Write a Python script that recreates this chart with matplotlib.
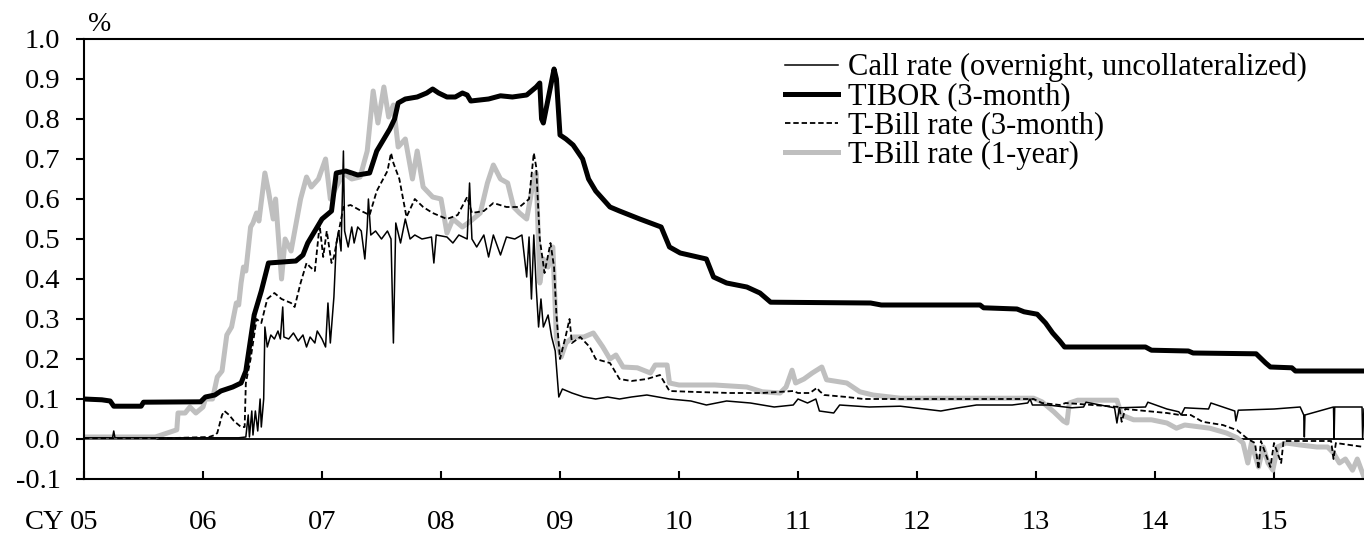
import matplotlib
matplotlib.use("Agg")
import matplotlib.pyplot as plt

plt.rcParams['font.family'] = ['Liberation Serif', 'DejaVu Serif']

# Daily rates, sampled as (decimal year, percent)
call_t = [2005.00, 2005.24, 2005.25, 2005.26, 2006.30, 2006.36, 2006.38, 2006.39, 2006.41, 2006.42,
          2006.44, 2006.46, 2006.48, 2006.49, 2006.51, 2006.52, 2006.54, 2006.57, 2006.60, 2006.63,
          2006.65, 2006.67, 2006.68, 2006.72, 2006.76, 2006.80, 2006.84, 2006.87, 2006.90, 2006.94,
          2006.96, 2007.00, 2007.03, 2007.05, 2007.07, 2007.10, 2007.12, 2007.14, 2007.16, 2007.18,
          2007.19, 2007.22, 2007.25, 2007.27, 2007.30, 2007.33, 2007.36, 2007.38, 2007.39, 2007.41,
          2007.45, 2007.50, 2007.55, 2007.58, 2007.60, 2007.62, 2007.66, 2007.70, 2007.74, 2007.78,
          2007.84, 2007.92, 2007.94, 2007.96, 2008.05, 2008.10, 2008.15, 2008.22, 2008.24, 2008.26,
          2008.30, 2008.36, 2008.40, 2008.44, 2008.50, 2008.55, 2008.62, 2008.68, 2008.72, 2008.74,
          2008.76, 2008.78, 2008.80, 2008.82, 2008.84, 2008.86, 2008.90, 2008.93, 2008.96, 2008.99,
          2009.02, 2009.10, 2009.20, 2009.30, 2009.40, 2009.50, 2009.60, 2009.73, 2009.92, 2010.10,
          2010.23, 2010.40, 2010.60, 2010.80, 2010.96, 2011.00, 2011.08, 2011.15, 2011.18, 2011.30,
          2011.35, 2011.60, 2011.86, 2012.20, 2012.35, 2012.50, 2012.80, 2012.93, 2012.95, 2012.97,
          2013.10, 2013.30, 2013.40, 2013.42, 2013.66, 2013.68, 2013.70, 2013.92, 2013.94, 2014.10,
          2014.20, 2014.22, 2014.25, 2014.45, 2014.47, 2014.67, 2014.68, 2014.70, 2015.00, 2015.22,
          2015.25, 2015.255, 2015.26, 2015.50, 2015.505, 2015.51, 2015.74, 2015.745, 2015.756]
call_v = [0.003, 0.003, 0.020, 0.003, 0.003, 0.005, 0.060, 0.005, 0.070, 0.010,
          0.070, 0.020, 0.100, 0.030, 0.100, 0.280, 0.230, 0.260, 0.250, 0.270,
          0.250, 0.330, 0.255, 0.250, 0.265, 0.245, 0.260, 0.230, 0.255, 0.240,
          0.270, 0.250, 0.230, 0.340, 0.240, 0.355, 0.490, 0.520, 0.470, 0.720,
          0.520, 0.480, 0.530, 0.490, 0.530, 0.520, 0.450, 0.530, 0.600, 0.510,
          0.520, 0.500, 0.520, 0.500, 0.240, 0.540, 0.490, 0.550, 0.500, 0.510,
          0.500, 0.505, 0.440, 0.510, 0.505, 0.490, 0.510, 0.500, 0.640, 0.500,
          0.480, 0.510, 0.455, 0.510, 0.460, 0.505, 0.500, 0.510, 0.405, 0.505,
          0.350, 0.510, 0.380, 0.280, 0.350, 0.280, 0.310, 0.255, 0.220, 0.105,
          0.125, 0.115, 0.105, 0.100, 0.105, 0.100, 0.105, 0.110, 0.100, 0.095,
          0.085, 0.095, 0.090, 0.080, 0.085, 0.100, 0.090, 0.100, 0.070, 0.065,
          0.085, 0.080, 0.082, 0.070, 0.078, 0.085, 0.085, 0.090, 0.100, 0.085,
          0.085, 0.078, 0.080, 0.092, 0.078, 0.040, 0.078, 0.080, 0.092, 0.075,
          0.068, 0.060, 0.078, 0.075, 0.090, 0.070, 0.045, 0.072, 0.075, 0.080,
          0.060, 0.005, 0.060, 0.080, 0.000, 0.080, 0.080, 0.000, 0.075]

tibor_t = [2005.00, 2005.15, 2005.22, 2005.25, 2005.48, 2005.50, 2005.98, 2006.02, 2006.10, 2006.15,
           2006.25, 2006.32, 2006.36, 2006.40, 2006.43, 2006.49, 2006.55, 2006.78, 2006.84, 2006.88,
           2006.93, 2007.00, 2007.08, 2007.12, 2007.20, 2007.30, 2007.40, 2007.46, 2007.52, 2007.57,
           2007.61, 2007.64, 2007.70, 2007.80, 2007.88, 2007.93, 2007.98, 2008.05, 2008.12, 2008.18,
           2008.22, 2008.25, 2008.40, 2008.50, 2008.60, 2008.72, 2008.80, 2008.83, 2008.845, 2008.86,
           2008.90, 2008.95, 2008.97, 2009.00, 2009.05, 2009.11, 2009.19, 2009.24, 2009.30, 2009.42,
           2009.50, 2009.67, 2009.85, 2009.92, 2010.01, 2010.23, 2010.29, 2010.40, 2010.57, 2010.68,
           2010.77, 2011.61, 2011.70, 2012.53, 2012.56, 2012.84, 2012.90, 2013.01, 2013.08, 2013.14,
           2013.20, 2013.24, 2013.92, 2013.97, 2014.28, 2014.32, 2014.85, 2014.93, 2014.97, 2015.15,
           2015.18, 2015.756]
tibor_v = [0.100, 0.098, 0.095, 0.082, 0.082, 0.092, 0.093, 0.105, 0.110, 0.120,
           0.130, 0.140, 0.170, 0.250, 0.310, 0.370, 0.440, 0.445, 0.460, 0.490,
           0.515, 0.550, 0.570, 0.665, 0.670, 0.660, 0.665, 0.720, 0.750, 0.775,
           0.800, 0.840, 0.850, 0.855, 0.865, 0.875, 0.865, 0.855, 0.855, 0.865,
           0.860, 0.845, 0.850, 0.858, 0.855, 0.860, 0.880, 0.890, 0.800, 0.790,
           0.850, 0.925, 0.900, 0.760, 0.750, 0.735, 0.700, 0.650, 0.620, 0.580,
           0.570, 0.550, 0.530, 0.480, 0.465, 0.450, 0.405, 0.390, 0.380, 0.365,
           0.342, 0.340, 0.335, 0.335, 0.328, 0.325, 0.318, 0.312, 0.290, 0.265,
           0.245, 0.230, 0.230, 0.222, 0.220, 0.215, 0.213, 0.190, 0.180, 0.178,
           0.170, 0.170]

tb3m_t = [2005.00, 2005.70, 2006.05, 2006.10, 2006.12, 2006.16, 2006.18, 2006.22, 2006.26, 2006.32,
          2006.35, 2006.36, 2006.40, 2006.45, 2006.49, 2006.54, 2006.60, 2006.66, 2006.74, 2006.77,
          2006.82, 2006.87, 2006.90, 2006.94, 2006.98, 2007.01, 2007.04, 2007.08, 2007.10, 2007.18,
          2007.24, 2007.33, 2007.40, 2007.46, 2007.55, 2007.58, 2007.60, 2007.65, 2007.71, 2007.78,
          2007.85, 2007.93, 2008.05, 2008.14, 2008.22, 2008.26, 2008.36, 2008.44, 2008.55, 2008.66,
          2008.74, 2008.78, 2008.80, 2008.83, 2008.87, 2008.92, 2008.95, 2008.97, 2009.00, 2009.05,
          2009.08, 2009.10, 2009.17, 2009.25, 2009.30, 2009.42, 2009.50, 2009.60, 2009.73, 2009.84,
          2009.92, 2010.10, 2010.43, 2010.70, 2010.96, 2011.00, 2011.10, 2011.16, 2011.18, 2011.22,
          2011.41, 2011.55, 2012.98, 2013.05, 2013.20, 2013.25, 2013.70, 2013.72, 2013.75, 2014.10,
          2014.21, 2014.30, 2014.40, 2014.57, 2014.69, 2014.78, 2014.84, 2014.87, 2014.89, 2014.97,
          2015.00, 2015.06, 2015.08, 2015.48, 2015.50, 2015.52, 2015.756]
tb3m_v = [0.002, 0.002, 0.005, 0.010, 0.015, 0.060, 0.070, 0.060, 0.045, 0.030,
          0.030, 0.140, 0.200, 0.300, 0.290, 0.350, 0.365, 0.350, 0.340, 0.330,
          0.390, 0.440, 0.430, 0.420, 0.535, 0.455, 0.520, 0.440, 0.455, 0.580,
          0.585, 0.570, 0.560, 0.620, 0.670, 0.715, 0.690, 0.650, 0.555, 0.600,
          0.580, 0.565, 0.550, 0.560, 0.605, 0.565, 0.570, 0.590, 0.580, 0.580,
          0.600, 0.715, 0.680, 0.500, 0.415, 0.490, 0.430, 0.310, 0.200, 0.260,
          0.300, 0.240, 0.255, 0.230, 0.200, 0.190, 0.150, 0.145, 0.150, 0.160,
          0.120, 0.118, 0.115, 0.115, 0.120, 0.115, 0.115, 0.128, 0.120, 0.110,
          0.105, 0.100, 0.100, 0.090, 0.085, 0.090, 0.080, 0.043, 0.075, 0.065,
          0.060, 0.060, 0.043, 0.035, 0.022, 0.000, -0.010, -0.075, -0.005, -0.070,
          -0.010, -0.060, -0.005, -0.005, -0.050, -0.010, -0.020]

tb1y_t = [2005.00, 2005.60, 2005.70, 2005.78, 2005.79, 2005.85, 2005.89, 2005.94, 2006.00, 2006.02,
          2006.08, 2006.12, 2006.16, 2006.18, 2006.20, 2006.24, 2006.28, 2006.30, 2006.32, 2006.34,
          2006.36, 2006.40, 2006.42, 2006.45, 2006.47, 2006.52, 2006.55, 2006.59, 2006.61, 2006.66,
          2006.69, 2006.74, 2006.82, 2006.87, 2006.91, 2006.97, 2007.03, 2007.07, 2007.12, 2007.18,
          2007.25, 2007.32, 2007.38, 2007.43, 2007.47, 2007.52, 2007.56, 2007.60, 2007.64, 2007.70,
          2007.76, 2007.80, 2007.85, 2007.93, 2008.00, 2008.05, 2008.10, 2008.18, 2008.25, 2008.33,
          2008.39, 2008.44, 2008.50, 2008.56, 2008.61, 2008.66, 2008.72, 2008.78, 2008.80, 2008.83,
          2008.86, 2008.90, 2008.94, 2008.97, 2009.01, 2009.05, 2009.11, 2009.20, 2009.28, 2009.36,
          2009.42, 2009.47, 2009.53, 2009.65, 2009.76, 2009.80, 2009.90, 2009.92, 2010.00, 2010.30,
          2010.57, 2010.70, 2010.85, 2010.90, 2010.95, 2010.98, 2011.05, 2011.12, 2011.20, 2011.24,
          2011.41, 2011.52, 2011.63, 2011.86, 2012.98, 2013.05, 2013.15, 2013.23, 2013.26, 2013.28,
          2013.35, 2013.68, 2013.72, 2013.82, 2013.97, 2014.10, 2014.18, 2014.25, 2014.46, 2014.60,
          2014.69, 2014.74, 2014.78, 2014.81, 2014.87, 2014.91, 2014.95, 2014.99, 2015.03, 2015.10,
          2015.22, 2015.36, 2015.45, 2015.50, 2015.55, 2015.60, 2015.66, 2015.70, 2015.756]
tb1y_v = [0.005, 0.005, 0.015, 0.023, 0.065, 0.065, 0.080, 0.065, 0.080, 0.100,
          0.100, 0.155, 0.170, 0.215, 0.260, 0.280, 0.340, 0.335, 0.390, 0.430,
          0.420, 0.530, 0.540, 0.565, 0.545, 0.665, 0.620, 0.550, 0.600, 0.400,
          0.500, 0.470, 0.600, 0.655, 0.630, 0.650, 0.700, 0.600, 0.630, 0.665,
          0.650, 0.655, 0.720, 0.870, 0.790, 0.880, 0.805, 0.835, 0.730, 0.750,
          0.650, 0.720, 0.630, 0.605, 0.600, 0.515, 0.550, 0.530, 0.545, 0.565,
          0.640, 0.685, 0.650, 0.640, 0.580, 0.565, 0.550, 0.650, 0.665, 0.390,
          0.450, 0.430, 0.480, 0.250, 0.205, 0.240, 0.255, 0.255, 0.265, 0.230,
          0.200, 0.210, 0.180, 0.178, 0.165, 0.185, 0.185, 0.140, 0.135, 0.135,
          0.130, 0.118, 0.115, 0.130, 0.172, 0.140, 0.150, 0.165, 0.180, 0.148,
          0.140, 0.118, 0.110, 0.102, 0.102, 0.093, 0.068, 0.045, 0.040, 0.090,
          0.097, 0.097, 0.060, 0.048, 0.048, 0.040, 0.027, 0.035, 0.027, 0.015,
          0.003, -0.010, -0.060, -0.010, -0.070, -0.020, -0.060, -0.078, -0.020, -0.010,
          -0.015, -0.020, -0.020, -0.035, -0.060, -0.050, -0.078, -0.050, -0.095]

years = list(range(2005, 2016))
year_labels = ['05', '06', '07', '08', '09', '10', '11', '12', '13', '14', '15']
y_ticks = [-0.1, 0.0, 0.1, 0.2, 0.3, 0.4, 0.5, 0.6, 0.7, 0.8, 0.9, 1.0]

fig = plt.figure(figsize=(13.64, 5.35), dpi=100)
ax = fig.add_axes([84 / 1364, 56 / 535, 1280 / 1364, 440 / 535])

ax.plot(tb1y_t, tb1y_v, color='#BFBFBF', lw=3.6, solid_joinstyle='round',
        label='T-Bill rate (1-year)', zorder=2)
ax.plot(tb3m_t, tb3m_v, color='black', lw=1.3, ls=(0, (3, 1.6)),
        label='T-Bill rate (3-month)', zorder=3)
ax.plot(call_t, call_v, color='black', lw=1.1,
        label='Call rate (overnight, uncollateralized)', zorder=4)
ax.plot(tibor_t, tibor_v, color='black', lw=3.6, solid_joinstyle='round',
        label='TIBOR (3-month)', zorder=5)
ax.axhline(0, color='black', lw=1.3, zorder=1)

ax.set_xlim(2005, 2005 + 1280 / 119)
ax.set_ylim(-0.1, 1.0)
ax.set_yticks(y_ticks)
ax.set_yticklabels([f'{v:.1f}' for v in y_ticks])
ax.set_xticks(years)
ax.set_xticklabels(year_labels)

ax.spines['right'].set_visible(False)
for side in ['left', 'bottom', 'top']:
    ax.spines[side].set_linewidth(1.5)
ax.tick_params(axis='y', direction='out', length=6, width=1.5, pad=11, labelsize=20.5)
ax.tick_params(axis='x', direction='in', length=6, width=1.5, pad=22, labelsize=20.5)

ax.annotate('CY', xy=(2005, 0), xycoords=('data', 'axes fraction'),
            xytext=(-14, -22), textcoords='offset points',
            ha='right', va='top', fontsize=20.5)
ax.text(4 / 1280, 1.005, '%', transform=ax.transAxes, fontsize=20,
        ha='left', va='bottom')

handles, labels = ax.get_legend_handles_labels()
order = [2, 3, 1, 0]
ax.legend([handles[i] for i in order], [labels[i] for i in order],
          loc='upper left', bbox_to_anchor=(785 / 1364, 1 - 53 / 535),
          bbox_transform=fig.transFigure, frameon=False, fontsize=22,
          handlelength=1.75, handletextpad=0.3, labelspacing=0.0,
          borderpad=0, borderaxespad=0)

fig.savefig('out.png', dpi=100)
